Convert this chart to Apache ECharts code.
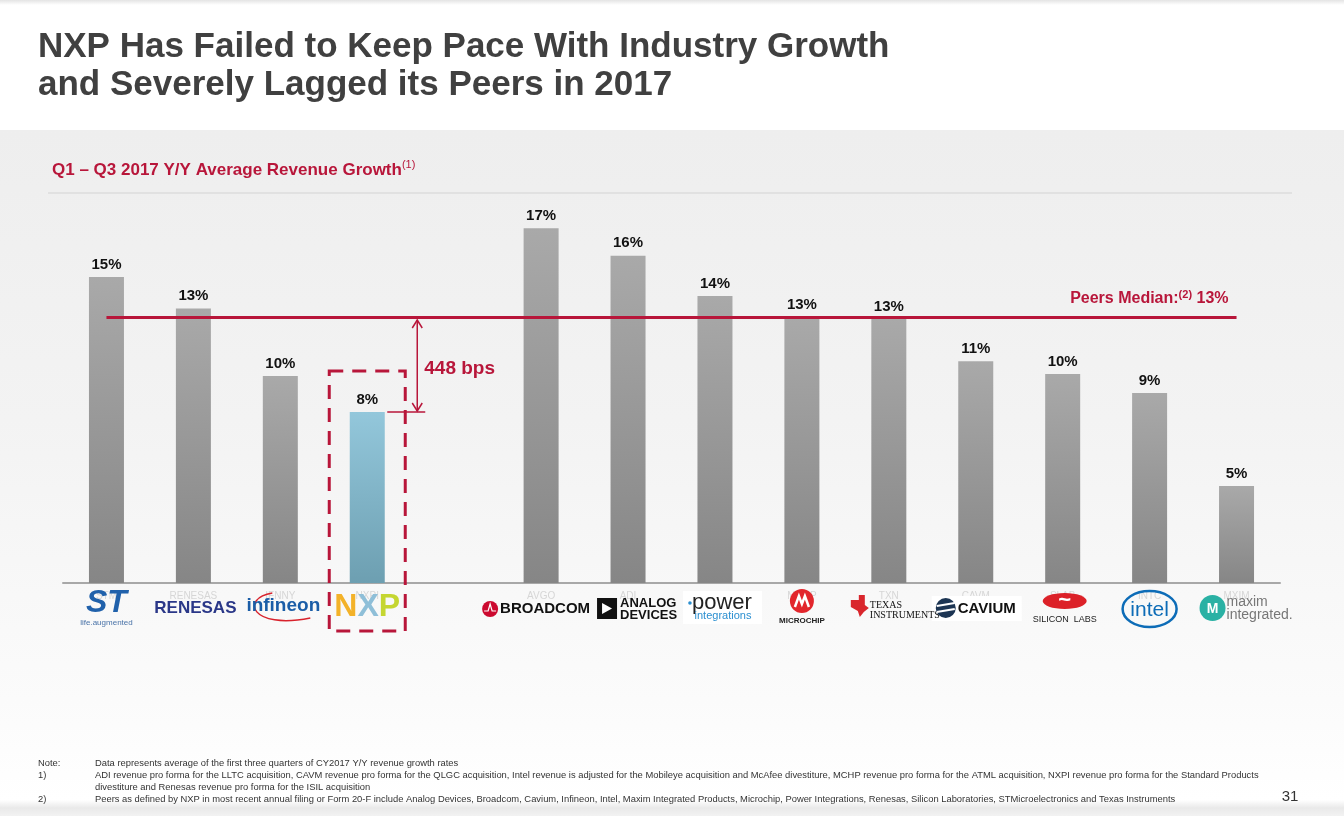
<!DOCTYPE html>
<html><head><meta charset="utf-8">
<script src="https://cdn.jsdelivr.net/npm/echarts@6/dist/echarts.min.js"></script>
<style>
html,body{margin:0;padding:0;background:#fff}
#c{width:1344px;height:816px;background:linear-gradient(to bottom,#e4e4e4 0px,#ffffff 5px,#ffffff 130px,#eeeeee 130px,#f3f3f3 420px,#fbfbfb 700px,#ffffff 800px,#e9e9e9 808px,#f2f2f2 816px)}
</style>
</head><body><div id="c"></div>
<script>
// ---- data ----
const tickers = ['STM','RENESAS','IFNNY','NXPI','','AVGO','ADI','POWI','MCHP','TXN','CAVM','SLAB','INTC','MXIM'];
const growth  = [14.5, 13.0, 9.8, 8.1, null, 16.8, 15.5, 13.6, 12.6, 12.5, 10.5, 9.9, 9.0, 4.6];
const peersMedian = 12.6;
const gapLabel = '448 bps';
const titleLines = ['NXP Has Failed to Keep Pace With Industry Growth', 'and Severely Lagged its Peers in 2017'];
const subtitle = 'Q1 – Q3 2017 Y/Y Average Revenue Growth';
const noteLines = [
  ['Note:', 'Data represents average of the first three quarters of CY2017 Y/Y revenue growth rates'],
  ['1)', 'ADI revenue pro forma for the LLTC acquisition, CAVM revenue pro forma for the QLGC acquisition, Intel revenue is adjusted for the Mobileye acquisition and McAfee divestiture, MCHP revenue pro forma for the ATML acquisition, NXPI revenue pro forma for the Standard Products'],
  ['', 'divestiture and Renesas revenue pro forma for the ISIL acquisition'],
  ['2)', 'Peers as defined by NXP in most recent annual filing or Form 20-F include Analog Devices, Broadcom, Cavium, Infineon, Intel, Maxim Integrated Products, Microchip, Power Integrations, Renesas, Silicon Laboratories, STMicroelectronics and Texas Instruments']
];
const pageNumber = '31';

// ---- styles ----
const F = 'Liberation Sans, Arial, sans-serif';
const RED = '#b8163a';
const grayGrad = new echarts.graphic.LinearGradient(0,0,0,1,[{offset:0,color:'#a9a9a9'},{offset:1,color:'#868686'}]);
const blueGrad = new echarts.graphic.LinearGradient(0,0,0,1,[{offset:0,color:'#93c7db'},{offset:1,color:'#6d9fb1'}]);

const chart = echarts.init(document.getElementById('c'));
const option = {
  backgroundColor: 'transparent',
  animation: false,
  grid: {left: 63, right: 64, top: 203, bottom: 233},
  xAxis: {
    type: 'category', data: tickers,
    axisLine: {lineStyle: {color: '#a8a8a8', width: 2}},
    axisTick: {show: false},
    axisLabel: {color: '#d6d6d6', fontSize: 10, fontFamily: F, margin: 8, interval: 0}
  },
  yAxis: {type: 'value', min: 0, max: 18, show: false, splitLine: {show: false}},
  series: [{
    type: 'bar', barWidth: 35,
    data: growth.map((v, i) => ({value: v === null ? '-' : v, itemStyle: {color: tickers[i] === 'NXPI' ? blueGrad : grayGrad}})),
    label: {show: true, position: 'top', distance: 5, fontFamily: F, fontWeight: 'bold', fontSize: 15, color: '#111',
      formatter: p => Math.round(p.value) + '%'},
    markLine: {
      symbol: 'none', silent: true,
      lineStyle: {color: RED, width: 3, type: 'solid'},
      label: {show: true, position: 'insideEndTop', distance: 8,
        formatter: '{a|Peers Median:}{s|(2)}{a| ' + Math.round(peersMedian) + '%}',
        rich: {
          a: {fontFamily: F, fontWeight: 'bold', fontSize: 16, color: RED, lineHeight: 20},
          s: {fontFamily: F, fontWeight: 'bold', fontSize: 11, color: RED, lineHeight: 11, verticalAlign: 'top'}
        }},
      data: [[{coord: [0, peersMedian]}, {coord: [tickers.length - 1, peersMedian]}]]
    }
  }]
};
chart.setOption(option);

const px = (i, v) => chart.convertToPixel({xAxisIndex: 0, yAxisIndex: 0}, [i, v]);
const base = px(0, 0)[1];

function txt(x, y, text, font, fill, align, va, extra) {
  return Object.assign({type: 'text', x: x, y: y, z: 100, style: {text: text, font: font, fill: fill, align: align || 'center', verticalAlign: va || 'middle'}}, extra || {});
}

function logo(t, cx, cy) {
  switch (t) {
    case 'STM': return [
      txt(cx, cy - 5, 'ST', 'italic bold 32px ' + F, '#2061ab'),
      txt(cx, cy + 15, 'life.augmented', '8px ' + F, '#4a73a8')];
    case 'RENESAS': return [txt(cx + 2, cy, 'RENESAS', 'bold 17px ' + F, '#2a3788')];
    case 'IFNNY': return [
      {type: 'bezierCurve', z: 100, shape: {x1: cx - 8, y1: cy - 15, cpx1: cx - 40, cpy1: cy - 10, cpx2: cx - 30, cpy2: cy + 22, x2: cx + 30, y2: cy + 10}, style: {stroke: '#d8222c', lineWidth: 1.5, fill: 'none'}},
      txt(cx + 3, cy - 2, 'infineon', 'bold 19px ' + F, '#1b5da7')];
    case 'NXPI': return [{type: 'text', x: cx, y: cy - 1, z: 100, style: {
      text: '{n|N}{x|X}{p|P}', align: 'center', verticalAlign: 'middle',
      rich: {n: {font: 'bold 32px ' + F, fill: '#f3b229'}, x: {font: 'bold 32px ' + F, fill: '#8fbfd8'}, p: {font: 'bold 32px ' + F, fill: '#c5d631'}}}}];
    case 'AVGO': return [
      {type: 'circle', z: 100, shape: {cx: cx - 51, cy: cy + 1, r: 8}, style: {fill: '#cc092f'}},
      {type: 'polyline', z: 101, shape: {points: [[cx - 57, cy + 3], [cx - 53, cy + 3], [cx - 51, cy - 4], [cx - 49, cy + 3], [cx - 45, cy + 3]]}, style: {stroke: '#fff', lineWidth: 1.2}},
      txt(cx - 41, cy + 1, 'BROADCOM', 'bold 15px ' + F, '#111', 'left')];
    case 'ADI': return [
      {type: 'rect', z: 100, shape: {x: cx - 31, y: cy - 10, width: 20, height: 21}, style: {fill: '#111'}},
      {type: 'polygon', z: 101, shape: {points: [[cx - 26, cy - 5], [cx - 16, cy + 0.5], [cx - 26, cy + 6]]}, style: {fill: '#fff'}},
      txt(cx - 8, cy - 5, 'ANALOG', 'bold 13px Liberation Sans Narrow, ' + F, '#111', 'left'),
      txt(cx - 8, cy + 7, 'DEVICES', 'bold 13px Liberation Sans Narrow, ' + F, '#111', 'left')];
    case 'POWI': return [
      {type: 'rect', z: 99, shape: {x: cx - 32, y: cy - 17, width: 79, height: 33}, style: {fill: '#fff'}},
      txt(cx + 7, cy - 5, 'power', '22px ' + F, '#222'),
      txt(cx + 8, cy + 8, 'integrations', '11px ' + F, '#2b8fd0'),
      {type: 'circle', z: 101, shape: {cx: cx - 25, cy: cy - 5, r: 1.8}, style: {fill: '#2b8fd0'}}];
    case 'MCHP': return [
      {type: 'circle', z: 100, shape: {cx: cx, cy: cy - 7, r: 12}, style: {fill: '#e2262c'}},
      {type: 'polyline', z: 101, shape: {points: [[cx - 7, cy - 1], [cx - 3, cy - 12], [cx, cy - 4], [cx + 3, cy - 12], [cx + 7, cy - 1]]}, style: {stroke: '#fff', lineWidth: 2.5}},
      txt(cx, cy + 13, 'MICROCHIP', 'bold 8px ' + F, '#222')];
    case 'TXN': return [
      {type: 'polygon', z: 100, shape: {points: [[cx - 38, cy - 8], [cx - 30, cy - 8], [cx - 30, cy - 13], [cx - 24, cy - 13], [cx - 24, cy - 3], [cx - 20, cy], [cx - 25, cy + 4], [cx - 29, cy + 9], [cx - 31, cy + 3], [cx - 38, cy - 1]]}, style: {fill: '#d9262c'}},
      txt(cx - 19, cy - 3, 'TEXAS', '10px Liberation Serif, serif', '#111', 'left'),
      txt(cx - 19, cy + 7, 'INSTRUMENTS', '10px Liberation Serif, serif', '#111', 'left')];
    case 'CAVM': return [
      {type: 'rect', z: 99, shape: {x: cx - 44, y: cy - 12, width: 90, height: 25}, style: {fill: '#fff'}},
      {type: 'circle', z: 100, shape: {cx: cx - 30, cy: cy, r: 10}, style: {fill: '#1c3553'}},
      {type: 'line', z: 101, shape: {x1: cx - 39, y1: cy - 2, x2: cx - 21, y2: cy - 5}, style: {stroke: '#fff', lineWidth: 2}},
      {type: 'line', z: 101, shape: {x1: cx - 39, y1: cy + 4, x2: cx - 21, y2: cy + 1}, style: {stroke: '#fff', lineWidth: 2}},
      txt(cx - 18, cy + 1, 'CAVIUM', 'bold 15px ' + F, '#111', 'left')];
    case 'SLAB': return [
      {type: 'ellipse', z: 99, shape: {cx: cx + 2, cy: cy - 7, rx: 22, ry: 8}, style: {fill: '#dc2128'}},
      txt(cx + 2, cy - 7, '~', 'bold 22px ' + F, '#fff'),
      txt(cx + 2, cy + 12, 'SILICON  LABS', '9px ' + F, '#222')];
    case 'INTC': return [
      {type: 'ellipse', z: 100, shape: {cx: cx, cy: cy + 1, rx: 27, ry: 18}, style: {fill: 'none', stroke: '#0d6cb7', lineWidth: 2.5}},
      txt(cx, cy + 2, 'intel', '21px ' + F, '#0d6cb7')];
    case 'MXIM': return [
      {type: 'circle', z: 100, shape: {cx: cx - 24, cy: cy, r: 13}, style: {fill: '#2ab1a4'}},
      txt(cx - 24, cy + 1, 'M', 'bold 14px ' + F, '#fff'),
      txt(cx - 10, cy - 6, 'maxim', '14px ' + F, '#777', 'left'),
      txt(cx - 10, cy + 7, 'integrated.', '14px ' + F, '#777', 'left')];
  }
  return [];
}

const g = [];
// title
g.push(txt(38, 30, titleLines[0], 'bold 35px ' + F, '#404040', 'left', 'top'));
g.push(txt(38, 68, titleLines[1], 'bold 35px ' + F, '#404040', 'left', 'top'));
// subtitle
g.push({type: 'text', x: 52, y: 170, z: 100, style: {text: '{m|' + subtitle + '}{s|(1)}', align: 'left', verticalAlign: 'middle',
  rich: {m: {font: 'bold 17px ' + F, fill: RED, lineHeight: 22}, s: {font: '11px ' + F, fill: RED, lineHeight: 11, verticalAlign: 'top'}}}});
g.push({type: 'line', z: 100, shape: {x1: 48, y1: 193, x2: 1292, y2: 193}, style: {stroke: '#dcdcdc', lineWidth: 1.5}});

// NXP annotation
const nIdx = tickers.indexOf('NXPI');
const nTop = px(nIdx, growth[nIdx]);
const mY = px(nIdx, peersMedian)[1];
const ax = nTop[0] + 50;
g.push({type: 'line', z: 100, shape: {x1: nTop[0] + 20, y1: nTop[1], x2: nTop[0] + 58, y2: nTop[1]}, style: {stroke: RED, lineWidth: 1.5}});
g.push({type: 'line', z: 100, shape: {x1: ax, y1: mY + 3, x2: ax, y2: nTop[1] - 1}, style: {stroke: RED, lineWidth: 1.5}});
g.push({type: 'polyline', z: 100, shape: {points: [[ax - 5, mY + 11], [ax, mY + 3], [ax + 5, mY + 11]]}, style: {stroke: RED, lineWidth: 1.5, fill: 'none'}});
g.push({type: 'polyline', z: 100, shape: {points: [[ax - 5, nTop[1] - 9], [ax, nTop[1] - 1], [ax + 5, nTop[1] - 9]]}, style: {stroke: RED, lineWidth: 1.5, fill: 'none'}});
g.push(txt(ax + 7, (mY + nTop[1]) / 2 + 4, gapLabel, 'bold 19px ' + F, RED, 'left'));
g.push({type: 'rect', z: 100, shape: {x: nTop[0] - 38, y: nTop[1] - 41, width: 76, height: 631 - (nTop[1] - 41)},
  style: {fill: 'none', stroke: RED, lineWidth: 3, lineDash: [14, 9]}});

// logos
tickers.forEach((t, i) => { if (t) { const cx = px(i, 0)[0]; logo(t, cx, base + 25).forEach(e => g.push(e)); } });

// notes
noteLines.forEach((n, i) => {
  const y = 763 + i * 12;
  if (n[0]) g.push(txt(38, y, n[0], '9.4px ' + F, '#333', 'left'));
  g.push(txt(95, y, n[1], '9.4px ' + F, '#333', 'left'));
});
g.push(txt(1290, 797, pageNumber, '15px ' + F, '#333', 'center'));

chart.setOption({graphic: {elements: g}});
</script>
</body></html>
